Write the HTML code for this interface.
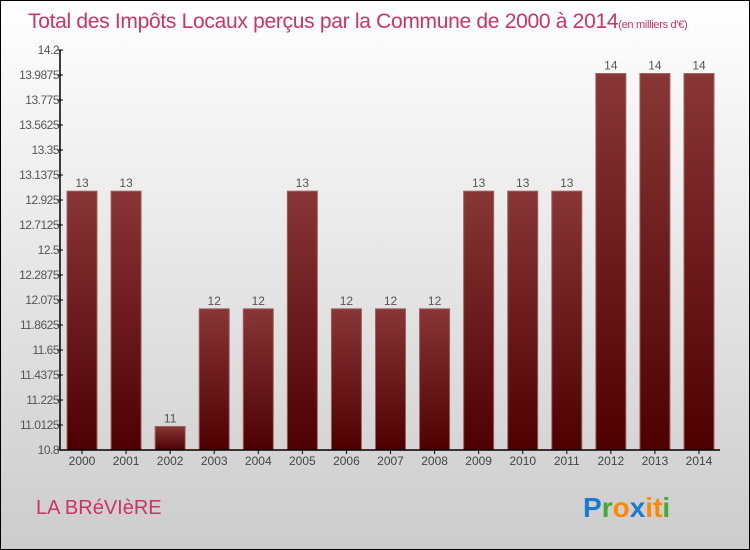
<!DOCTYPE html>
<html><head><meta charset="utf-8"><style>
body{margin:0;width:750px;height:550px;overflow:hidden}
svg{display:block}
text{font-family:"Liberation Sans",sans-serif}
</style></head><body>
<svg width="750" height="550" viewBox="0 0 750 550">
<defs>
<linearGradient id="bg" x1="0" y1="0" x2="0" y2="1"><stop offset="0" stop-color="#ffffff"/><stop offset="1" stop-color="#cccccc"/></linearGradient>
<linearGradient id="bar" x1="0" y1="0" x2="0" y2="1"><stop offset="0" stop-color="#883636"/><stop offset="1" stop-color="#4e0000"/></linearGradient>
</defs>
<rect x="0.5" y="0.5" width="749" height="549" fill="url(#bg)" stroke="#000"/>
<text x="28" y="28" font-size="21" fill="#cc3366" letter-spacing="-0.3">Total des Impôts Locaux perçus par la Commune de 2000 à 2014<tspan font-size="11">(en milliers d'€)</tspan></text>
<g id="bars"></g>
<g id="axes"></g>
<text x="36" y="514" font-size="20" fill="#cc3366">LA BRéVIèRE</text>
<text x="583" y="517" font-size="28" font-weight="bold"><tspan fill="#1a7ad4">P</tspan><tspan fill="#44aa33">r</tspan><tspan fill="#ff8800">o</tspan><tspan fill="#1a7ad4">x</tspan><tspan fill="#ff8800">i</tspan><tspan fill="#ff8800">t</tspan><tspan fill="#44aa33">i</tspan></text>
</svg>
<script>
const years=["2000","2001","2002","2003","2004","2005","2006","2007","2008","2009","2010","2011","2012","2013","2014"];
const values=[13,13,11,12,12,13,12,12,12,13,13,13,14,14,14];
const tickLabels=["10.8","11.0125","11.225","11.4375","11.65","11.8625","12.075","12.2875","12.5","12.7125","12.925","13.1375","13.35","13.5625","13.775","13.9875","14.2"];
const yMin=10.8,yMax=14.2,plotTop=50,plotBot=450,plotX0=60,plotX1=720;
const ns="http://www.w3.org/2000/svg";
const yScale=v=>plotBot-(v-yMin)/(yMax-yMin)*(plotBot-plotTop);
const step=(plotX1-plotX0-43)/(years.length-1);
const xc=i=>plotX0+22+step*i;
function mk(t,a,p){const e=document.createElementNS(ns,t);for(const k in a)e.setAttribute(k,a[k]);p.appendChild(e);return e;}
const gb=document.getElementById('bars'),ga=document.getElementById('axes');
values.forEach((v,i)=>{
 const r=mk('rect',{x:xc(i)-15,y:yScale(v),width:30,height:plotBot-yScale(v),fill:'url(#bar)',stroke:'#a06060','stroke-width':1},gb);
 
 
 const t=mk('text',{x:xc(i),y:yScale(v)-4,'text-anchor':'middle','font-size':12,fill:'#555'},gb);
 t.textContent=String(v);
 
 
 const xl=mk('text',{x:xc(i),y:plotBot+15,'text-anchor':'middle','font-size':12,fill:'#444'},ga);
 xl.textContent=years[i];
 
 
 mk('line',{x1:xc(i),x2:xc(i),y1:plotBot,y2:plotBot+4,stroke:'#000'},ga);
});
tickLabels.forEach(l=>{
 const v=parseFloat(l);
 mk('line',{x1:plotX0-3,x2:plotX0+3,y1:yScale(v),y2:yScale(v),stroke:'#000'},ga);
 const t=mk('text',{x:plotX0-1,y:yScale(v)+4,'text-anchor':'end','font-size':12,fill:'#555','letter-spacing':'-0.5'},ga);
 t.textContent=l;
 
 
});
const ya=mk('line',{x1:plotX0,x2:plotX0,y1:plotTop,y2:plotBot,stroke:'#000','stroke-width':1.5},ga);


const xa=mk('line',{x1:plotX0,x2:plotX1,y1:plotBot,y2:plotBot,stroke:'#000','stroke-width':1.5},ga);


</script>
</body></html>
